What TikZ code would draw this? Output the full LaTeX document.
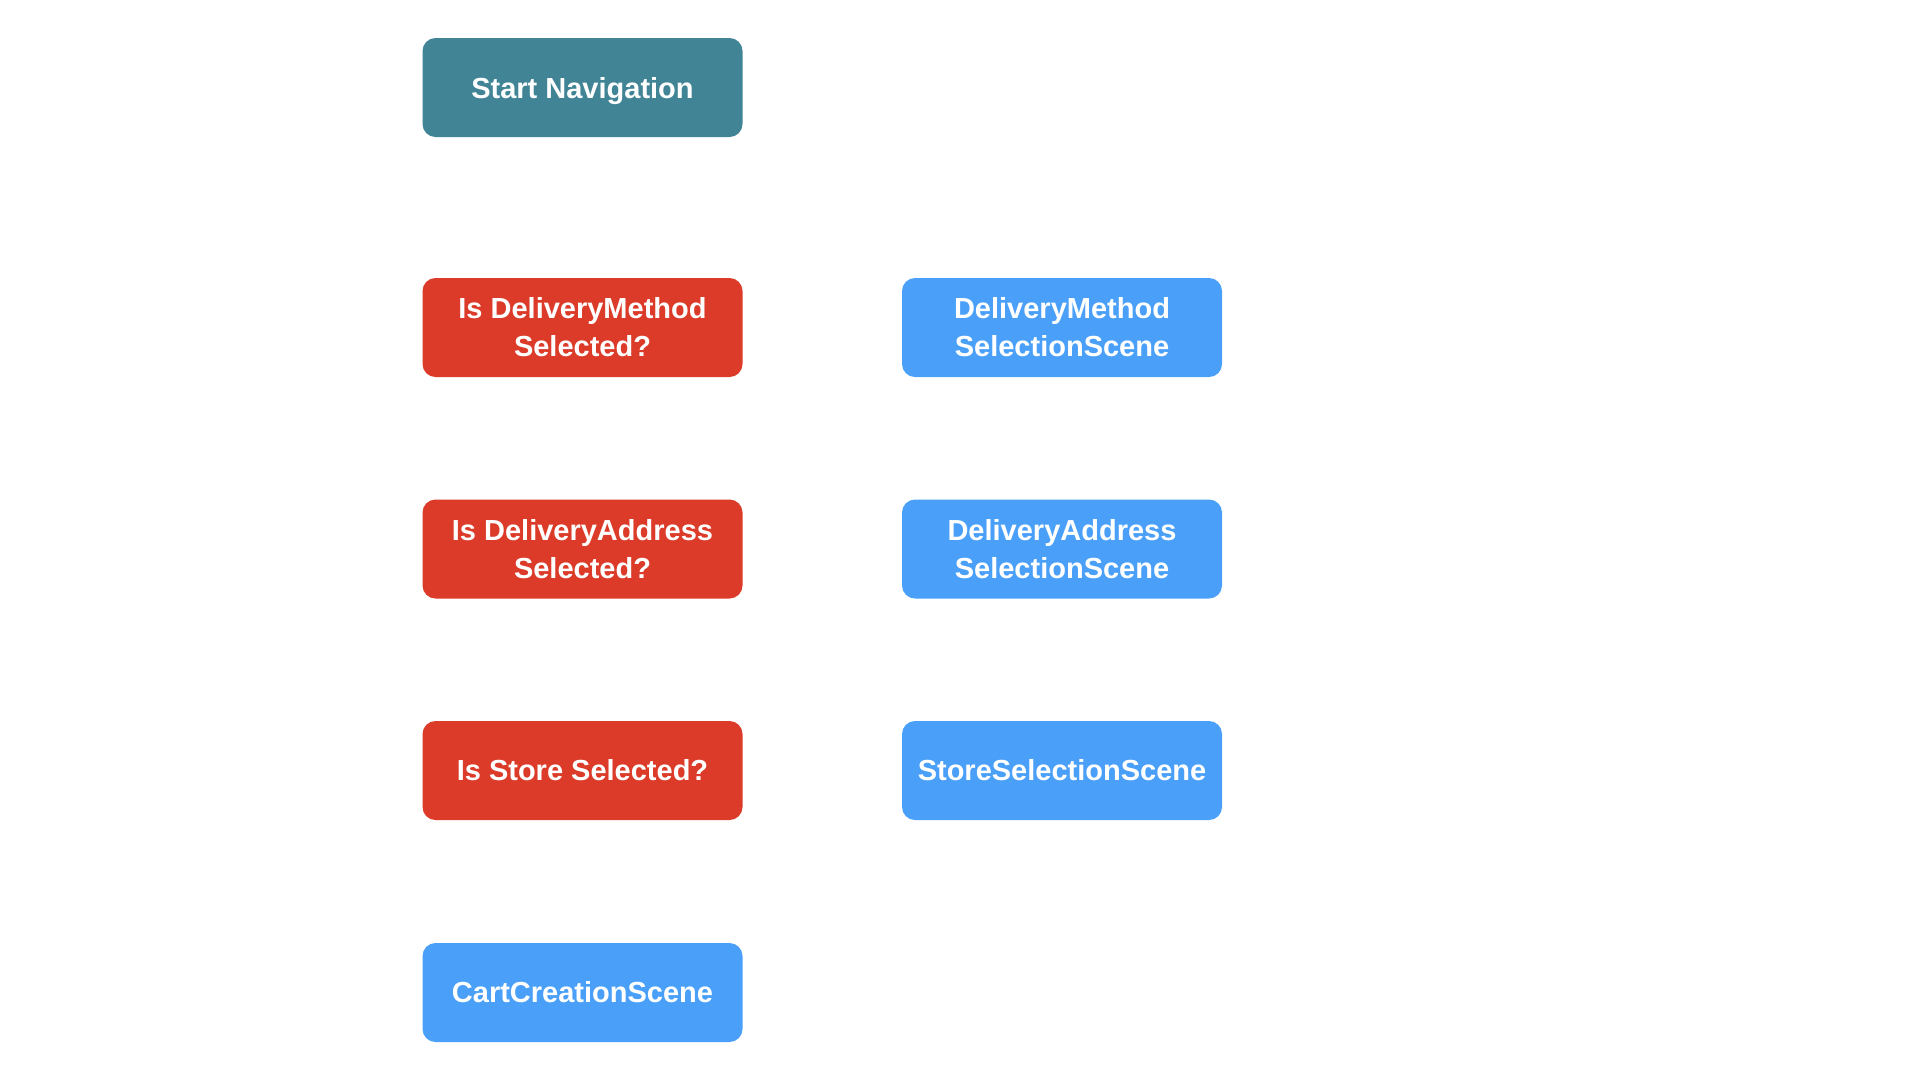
\documentclass[tikz,border=0pt]{standalone}
\usepackage{fontspec}
\setmainfont{Liberation Sans}
\definecolor{startc}{HTML}{408496}
\definecolor{decc}{HTML}{DB3B28}
\definecolor{scenec}{HTML}{4AA0F8}
\tikzset{
  box/.style={rounded corners=13pt, minimum width=320pt, minimum height=99pt,
    inner sep=0pt, align=center, text=white,
    font=\fontsize{29}{38}\selectfont\bfseries},
  startbox/.style={box, fill=startc},
  decbox/.style={box, fill=decc},
  scenebox/.style={box, fill=scenec}
}
\begin{document}
\begin{tikzpicture}[x=1pt,y=-1pt]
\useasboundingbox[fill=white] (0,0) rectangle (1920,1080);
\node[startbox, text depth=0pt] (start) at (582.5,87.5) {Start Navigation};
\node[decbox] (dm) at (582.5,327.5) {Is DeliveryMethod\\Selected?};
\node[scenebox] (dms) at (1062,327.5) {DeliveryMethod\\SelectionScene};
\node[decbox] (da) at (582.5,549) {Is DeliveryAddress\\Selected?};
\node[scenebox] (das) at (1062,549) {DeliveryAddress\\SelectionScene};
\node[decbox] (st) at (582.5,770.5) {Is Store Selected?};
\node[scenebox] (sts) at (1062,770.5) {StoreSelectionScene};
\node[scenebox] (cart) at (582.5,992.5) {CartCreationScene};
\end{tikzpicture}
\end{document}
